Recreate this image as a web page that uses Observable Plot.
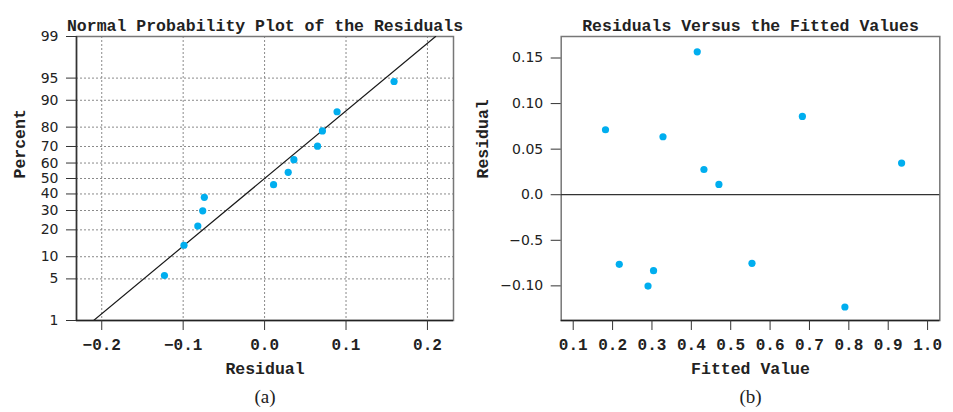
<!DOCTYPE html>
<html>
<head>
<meta charset="utf-8">
<script src="https://cdn.jsdelivr.net/npm/d3@7"></script>
<script src="https://cdn.jsdelivr.net/npm/@observablehq/plot@0.6"></script>
<style>
  html, body { margin: 0; padding: 0; background: #fff; }
  #wrap { display: flex; width: 953px; height: 412px; }
  svg g[aria-label="x-axis tick label"] text { font-family: "Liberation Mono", monospace; font-weight: bold; font-size: 16px; }
  svg g[aria-label="y-axis tick label"] text { font-family: "DejaVu Sans", sans-serif; font-size: 14px; }
</style>
</head>
<body>
<div id="wrap"></div>
<script>
// ---------- Data ----------
// (a) Normal probability plot
const probResidual = [-0.123, -0.099, -0.082, -0.076, -0.074, 0.011, 0.029, 0.036, 0.065, 0.071, 0.089, 0.159];
const probPercent  = [5.6, 13.7, 21.8, 29.8, 37.9, 46.0, 54.0, 62.1, 70.2, 78.2, 86.3, 94.4];
const fitResidual  = [-0.21, 0.21];
const fitPercent   = [1, 99];
const percentTicks = [1, 5, 10, 20, 30, 40, 50, 60, 70, 80, 90, 95, 99];
const residTicksA  = [-0.2, -0.1, 0.0, 0.1, 0.2];
const residLabelsA = ["\u22120.2", "\u22120.1", "0.0", "0.1", "0.2"];
const xDomainA     = [-0.231, 0.232];

// (b) Residuals versus fitted values
const fitted   = [0.182, 0.328, 0.415, 0.432, 0.470, 0.682, 0.934, 0.217, 0.304, 0.290, 0.554, 0.790];
const residual = [0.0713, 0.0636, 0.1568, 0.0277, 0.0113, 0.0859, 0.0347, -0.0764, -0.0833, -0.1002, -0.0753, -0.1232];
const fittedTicks  = [0.1, 0.2, 0.3, 0.4, 0.5, 0.6, 0.7, 0.8, 0.9, 1.0];
const fittedLabels = ["0.1", "0.2", "0.3", "0.4", "0.5", "0.6", "0.7", "0.8", "0.9", "1.0"];
const residTicksB  = [0.15, 0.10, 0.05, 0.0, -0.05, -0.10];
const residLabelsB = ["0.15", "0.10", "0.05", "0.0", "\u22120.5", "\u22120.10"];
const xDomainB = [0.0695, 1.031];
const yDomainB = [-0.138, 0.1736];

// ---------- Inverse normal CDF (Acklam) for the probability scale ----------
function qnorm(p) {
  const a = [-3.969683028665376e+01, 2.209460984245205e+02, -2.759285104469687e+02, 1.383577518672690e+02, -3.066479806614716e+01, 2.506628277459239e+00];
  const b = [-5.447609879822406e+01, 1.615858368580409e+02, -1.556989798598866e+02, 6.680131188771972e+01, -1.328068155288572e+01];
  const c = [-7.784894002430293e-03, -3.223964580411365e-01, -2.400758277161838e+00, -2.549732539343734e+00, 4.374664141464968e+00, 2.938163982698783e+00];
  const d = [7.784695709041462e-03, 3.224671290700398e-01, 2.445134137142996e+00, 3.754408661907416e+00];
  const plow = 0.02425, phigh = 1 - plow;
  let q, r;
  if (p < plow) {
    q = Math.sqrt(-2 * Math.log(p));
    return (((((c[0]*q+c[1])*q+c[2])*q+c[3])*q+c[4])*q+c[5]) / ((((d[0]*q+d[1])*q+d[2])*q+d[3])*q+1);
  } else if (p <= phigh) {
    q = p - 0.5; r = q * q;
    return (((((a[0]*r+a[1])*r+a[2])*r+a[3])*r+a[4])*r+a[5])*q / (((((b[0]*r+b[1])*r+b[2])*r+b[3])*r+b[4])*r+1);
  } else {
    q = Math.sqrt(-2 * Math.log(1 - p));
    return -(((((c[0]*q+c[1])*q+c[2])*q+c[3])*q+c[4])*q+c[5]) / ((((d[0]*q+d[1])*q+d[2])*q+d[3])*q+1);
  }
}
const z = pct => qnorm(pct / 100);

const probData = probResidual.map((r, i) => ({r, q: z(probPercent[i])}));
const fitData  = fitResidual.map((r, i) => ({r, q: z(fitPercent[i])}));
const qTicks   = percentTicks.map(z);
const nearestLabel = (ticks, labels) => v => {
  let bi = 0, bd = Infinity;
  ticks.forEach((t, i) => { const dd = Math.abs(t - v); if (dd < bd) { bd = dd; bi = i; } });
  return labels[bi];
};
const rvData = fitted.map((f, i) => ({f, r: residual[i]}));

const mono = "Liberation Mono, monospace";
const dotColor = "#00aeef";

// ---------- Panel (a) ----------
const plotA = Plot.plot({
  width: 470, height: 412,
  marginLeft: 76, marginRight: 17, marginTop: 36, marginBottom: 92,
  style: {background: "#fff", color: "#222", overflow: "visible"},
  x: {domain: xDomainA},
  y: {domain: [z(1), z(99)]},
  marks: [
    Plot.gridX(residTicksA, {stroke: "#8a8a8a", strokeOpacity: 1, strokeDasharray: "2,2"}),
    Plot.gridY(qTicks, {stroke: "#8a8a8a", strokeOpacity: 1, strokeDasharray: "2,2"}),
    Plot.frame({stroke: "#777", strokeWidth: 1.5}),
    Plot.ruleX([xDomainA[0]], {stroke: "#333", strokeWidth: 1.5}),
    Plot.ruleY([z(1)], {stroke: "#222", strokeWidth: 1.5}),
    Plot.axisX({ticks: residTicksA, tickFormat: nearestLabel(residTicksA, residLabelsA), tickSize: 10, tickPadding: 8, label: null, stroke: "#333"}),
    Plot.axisY({ticks: qTicks, tickFormat: nearestLabel(qTicks, percentTicks.map(String)), tickSize: 10, tickPadding: 8, label: null, stroke: "#333"}),
    Plot.line(fitData, {x: "r", y: "q", stroke: "#1a1a1a", strokeWidth: 1.2, clip: true}),
    Plot.dot(probData, {x: "r", y: "q", r: 3.6, fill: dotColor}),
    Plot.text(["Normal Probability Plot of the Residuals"], {text: d => d, frameAnchor: "top", dy: -17, fontFamily: mono, fontWeight: "bold", fontSize: 16.5, fill: "#222"}),
    Plot.text(["Residual"], {text: d => d, frameAnchor: "bottom", dy: 53, fontFamily: mono, fontWeight: "bold", fontSize: 16.5, fill: "#222"}),
    Plot.text(["Percent"], {text: d => d, frameAnchor: "left", dx: -57, rotate: -90, fontFamily: mono, fontWeight: "bold", fontSize: 16.5, fill: "#222"}),
    Plot.text(["(a)"], {text: d => d, frameAnchor: "bottom", dy: 82, fontFamily: "Liberation Serif, serif", fontSize: 19, fill: "#222"})
  ]
});

// ---------- Panel (b) ----------
const plotB = Plot.plot({
  width: 483, height: 412,
  marginLeft: 90.7, marginRight: 13.7, marginTop: 36, marginBottom: 92,
  style: {background: "#fff", color: "#222", overflow: "visible"},
  x: {domain: xDomainB},
  y: {domain: yDomainB},
  marks: [
    Plot.frame({stroke: "#777", strokeWidth: 1.5}),
    Plot.ruleY([yDomainB[0]], {stroke: "#222", strokeWidth: 1.5}),
    Plot.ruleY([0], {stroke: "#333", strokeWidth: 1.3}),
    Plot.axisX({ticks: fittedTicks, tickFormat: nearestLabel(fittedTicks, fittedLabels), tickSize: 10, tickPadding: 8, label: null, stroke: "#333"}),
    Plot.axisY({ticks: residTicksB, tickFormat: nearestLabel(residTicksB, residLabelsB), tickSize: 10, tickPadding: 8, label: null, stroke: "#333"}),
    Plot.dot(rvData, {x: "f", y: "r", r: 3.6, fill: dotColor}),
    Plot.text(["Residuals Versus the Fitted Values"], {text: d => d, frameAnchor: "top", dy: -17, fontFamily: mono, fontWeight: "bold", fontSize: 16.5, fill: "#222"}),
    Plot.text(["Fitted Value"], {text: d => d, frameAnchor: "bottom", dy: 53, fontFamily: mono, fontWeight: "bold", fontSize: 16.5, fill: "#222"}),
    Plot.text(["Residual"], {text: d => d, frameAnchor: "left", dx: -78.7, rotate: -90, fontFamily: mono, fontWeight: "bold", fontSize: 16.5, fill: "#222"}),
    Plot.text(["(b)"], {text: d => d, frameAnchor: "bottom", dy: 82, fontFamily: "Liberation Serif, serif", fontSize: 19, fill: "#222"})
  ]
});

document.getElementById("wrap").append(plotA, plotB);
</script>
</body>
</html>
